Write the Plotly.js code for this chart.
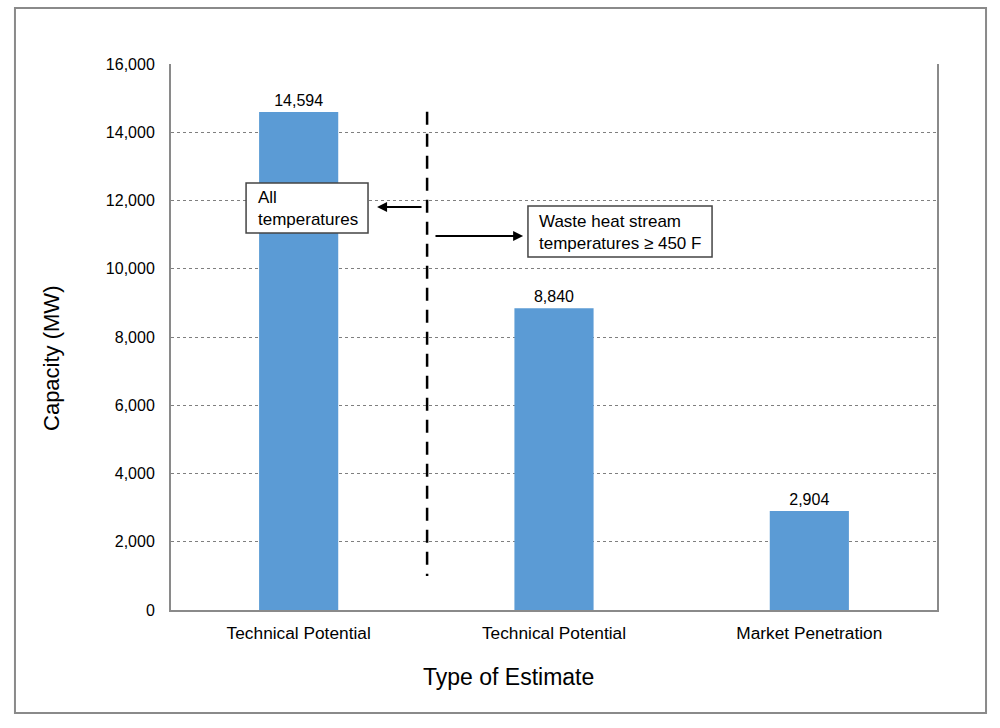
<!DOCTYPE html>
<html>
<head>
<meta charset="utf-8">
<script src="https://cdn.plot.ly/plotly-3.0.1.min.js"></script>
<style>html,body{margin:0;padding:0;background:#fff;}#chart{width:1000px;height:728px;}</style>
</head>
<body>
<div id="chart"></div>
<script>
const categories = ["Technical Potential", "Technical Potential", "Market Penetration"];
const capacity = [14594, 8840, 2904];
const valueLabels = ["14,594", "8,840", "2,904"];
const yTickVals = [0, 2000, 4000, 6000, 8000, 10000, 12000, 14000, 16000];
const yTickText = ["0", "2,000", "4,000", "6,000", "8,000", "10,000", "12,000", "14,000", "16,000"];
const boxTexts = ["All<br>temperatures", "Waste heat stream<br>temperatures ≥ 450 F"];
const xTitle = "Type of Estimate";
const yTitle = "Capacity (MW)";
const positions = categories.map((c, i) => i);

const FONT = "Liberation Sans, Arial, sans-serif";

const trace = {
  type: "bar",
  x: positions,
  y: capacity,
  width: 0.31,
  marker: {color: "#5B9BD5", line: {width: 0}},
  text: valueLabels,
  textposition: "outside",
  textfont: {family: FONT, size: 16, color: "#000"},
  cliponaxis: false,
  hoverinfo: "skip"
};

const layout = {
  width: 1000, height: 728,
  margin: {l: 171, r: 63, t: 64, b: 118},
  paper_bgcolor: "#fff", plot_bgcolor: "#fff",
  showlegend: false,
  font: {family: FONT, color: "#000"},
  xaxis: {
    range: [-0.5, 2.5],
    tickvals: positions,
    ticktext: categories,
    tickfont: {family: FONT, size: 17.3, color: "#000"},
    showgrid: false, zeroline: false,
    showline: true, linecolor: "#8a8a8a", linewidth: 2,
    ticks: "", ticklabelstandoff: 6
  },
  yaxis: {
    range: [0, 16000],
    tickvals: yTickVals,
    ticktext: yTickText,
    tickfont: {family: FONT, size: 16, color: "#000"},
    showgrid: true, gridcolor: "#7f7f7f", gridwidth: 1, griddash: "3px,3px",
    zeroline: false,
    showline: true, mirror: true, linecolor: "#8a8a8a", linewidth: 2,
    ticks: "", ticklabelstandoff: 11
  },
  shapes: [
    {type: "rect", xref: "paper", yref: "paper", x0: -0.2037, x1: 1.064, y0: -0.1886, y1: 1.1026,
     line: {color: "#8a8a8a", width: 2}, fillcolor: "rgba(0,0,0,0)"},
    {type: "line", xref: "x", yref: "y", x0: 0.503, x1: 0.503, y0: 14600, y1: 1000,
     line: {color: "#000", width: 2.5, dash: "13px,9px"}},
    {type: "rect", xref: "x", yref: "y", x0: -0.206, x1: 0.2716, y0: 11048, y1: 12513,
     line: {color: "#444", width: 1.5}, fillcolor: "#fff"},
    {type: "rect", xref: "x", yref: "y", x0: 0.898, x1: 1.619, y0: 10344, y1: 11839,
     line: {color: "#444", width: 1.5}, fillcolor: "#fff"}
  ],
  annotations: [
    {x: 0.307, y: 11810, ax: 0.487, ay: 11810, xref: "x", yref: "y", axref: "x", ayref: "y",
     text: "", showarrow: true, arrowhead: 2, arrowsize: 1, arrowwidth: 2, arrowcolor: "#000"},
    {x: 0.879, y: 10960, ax: 0.530, ay: 10960, xref: "x", yref: "y", axref: "x", ayref: "y",
     text: "", showarrow: true, arrowhead: 2, arrowsize: 1, arrowwidth: 2, arrowcolor: "#000"},
    {x: -0.166, y: 11780, xref: "x", yref: "y", text: boxTexts[0], showarrow: false,
     xanchor: "left", yanchor: "middle", align: "left",
     font: {family: FONT, size: 17, color: "#000"}},
    {x: 0.934, y: 11077, xref: "x", yref: "y", text: boxTexts[1], showarrow: false,
     xanchor: "left", yanchor: "middle", align: "left",
     font: {family: FONT, size: 17, color: "#000"}},
    {x: 0.44, y: -0.1227, xref: "paper", yref: "paper", text: xTitle, showarrow: false,
     xanchor: "center", yanchor: "middle", font: {family: FONT, size: 23, color: "#000"}},
    {x: -0.1567, y: 0.4615, xref: "paper", yref: "paper", text: yTitle, showarrow: false,
     textangle: -90, xanchor: "center", yanchor: "middle", font: {family: FONT, size: 22, color: "#000"}}
  ]
};

Plotly.newPlot("chart", [trace], layout, {staticPlot: true, displayModeBar: false});
</script>
</body>
</html>
